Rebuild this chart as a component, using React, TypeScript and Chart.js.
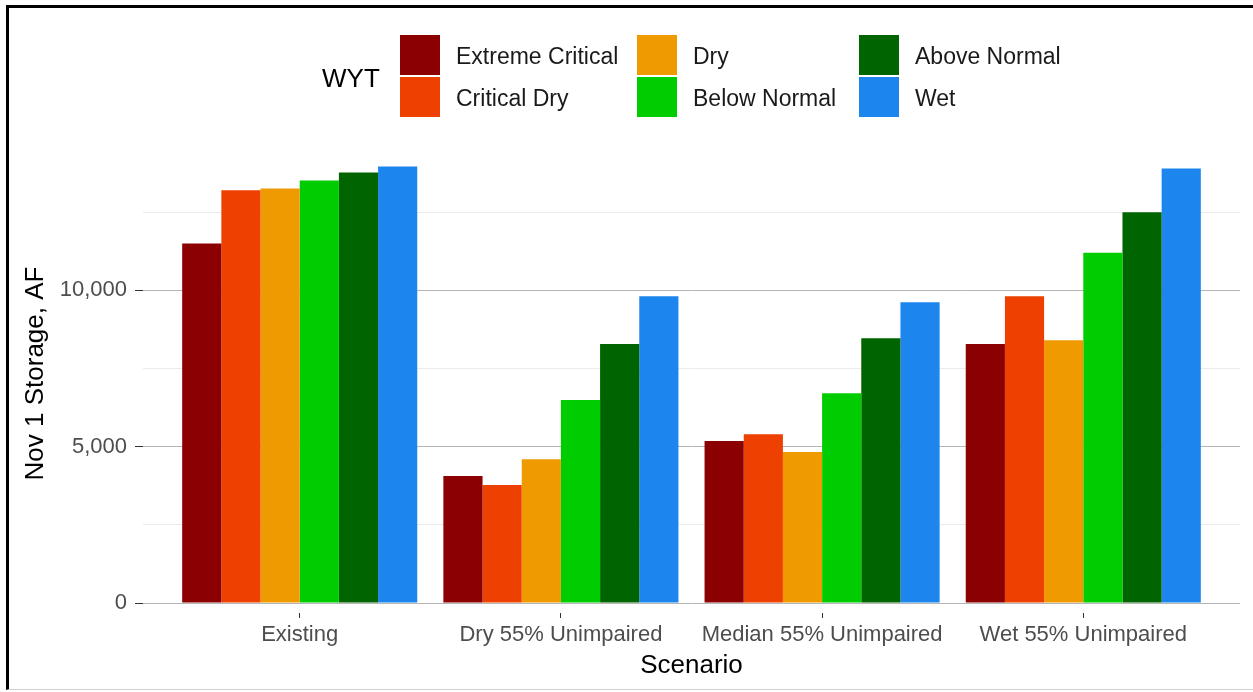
import React, { useEffect, useRef } from "react";
import { Chart, registerables } from "chart.js";

Chart.register(...registerables);

// ---- Data ----
const scenarios = ["Existing", "Dry 55% Unimpaired", "Median 55% Unimpaired", "Wet 55% Unimpaired"];
const wytNames = ["Extreme Critical", "Critical Dry", "Dry", "Below Normal", "Above Normal", "Wet"];
const wytColors = ["#8B0000", "#EE4000", "#EE9A00", "#00CD00", "#006400", "#1C86EE"];
const extremeCritical = [11500, 4060, 5180, 8280];
const criticalDry = [13200, 3770, 5400, 9810];
const dry = [13260, 4600, 4830, 8400];
const belowNormal = [13510, 6490, 6710, 11200];
const aboveNormal = [13770, 8280, 8470, 12500];
const wet = [13960, 9810, 9620, 13900];
const seriesValues = [extremeCritical, criticalDry, dry, belowNormal, aboveNormal, wet];
const yMajorTicks = [0, 5000, 10000];
const yTickStep = 2500;
const yMax = 14680;

const FONT = "'Liberation Sans', Arial, Helvetica, sans-serif";

export default function App() {
  const canvasRef = useRef<HTMLCanvasElement | null>(null);

  useEffect(() => {
    const canvas = canvasRef.current;
    if (!canvas) return;
    const chart = new Chart(canvas, {
      type: "bar",
      data: {
        datasets: wytNames.map((name, s) => ({
          label: name,
          data: scenarios.map((_, i) => ({ x: i + 1, y: seriesValues[s][i] })),
          backgroundColor: wytColors[s],
          borderWidth: 0,
          categoryPercentage: 0.9,
          barPercentage: 1,
        })),
      },
      options: {
        animation: false,
        responsive: false,
        devicePixelRatio: 1,
        layout: { padding: { top: 144, right: 13, bottom: 0, left: 0 } },
        plugins: {
          legend: { display: false },
          tooltip: { enabled: false },
        },
        scales: {
          x: {
            type: "linear",
            min: 0.4,
            max: 4.6,
            offset: false,
            afterBuildTicks: (sc: any) => {
              sc.ticks = scenarios.map((_, i) => ({ value: i + 1 }));
            },
            afterFit: (sc: any) => {
              sc.height = 89;
            },
            ticks: {
              autoSkip: false,
              maxRotation: 0,
              minRotation: 0,
              padding: 4,
              color: "#4d4d4d",
              font: { family: FONT, size: 22 },
              callback: (v: any) => scenarios[Math.round(Number(v)) - 1] ?? "",
            },
            grid: {
              offset: false,
              drawOnChartArea: false,
              drawTicks: true,
              tickLength: 15,
              tickColor: "#333333",
              tickWidth: 1,
              tickBorderDash: [0, 10, 5, 100],
            },
            border: { display: false },
            title: {
              display: true,
              text: "Scenario",
              color: "#000000",
              font: { family: FONT, size: 26 },
              padding: { top: 0, bottom: 11 },
            },
          },
          y: {
            min: 0,
            max: yMax,
            afterBuildTicks: (sc: any) => {
              const t: any[] = [];
              for (let v = 0; v <= yMax; v += yTickStep) t.push({ value: v });
              sc.ticks = t;
            },
            afterFit: (sc: any) => {
              sc.width = 143;
            },
            ticks: {
              padding: 8,
              color: "#4d4d4d",
              font: { family: FONT, size: 22 },
              callback: (v: any) =>
                yMajorTicks.includes(Number(v)) ? Number(v).toLocaleString("en-US") : "",
            },
            grid: {
              color: (ctx: any) =>
                ctx.tick && yMajorTicks.includes(ctx.tick.value) ? "#b5b5b5" : "#ebebeb",
              lineWidth: 1,
              drawTicks: true,
              tickLength: 8,
              tickColor: (ctx: any) =>
                ctx.tick && yMajorTicks.includes(ctx.tick.value) ? "#333333" : "rgba(0,0,0,0)",
            },
            border: { display: false },
            title: {
              display: true,
              text: "Nov 1 Storage, AF",
              color: "#000000",
              font: { family: FONT, size: 26 },
              padding: { top: 20, bottom: 0 },
            },
          },
        },
      },
    } as any);
    return () => chart.destroy();
  }, []);

  // legend ordering: filled column by column, 2 rows
  const legendCols = [0, 1, 2].map((c) => [c * 2, c * 2 + 1]);
  const colWidths = [237, 222, 220];

  return (
    <div
      style={{
        position: "fixed",
        left: 0,
        top: 0,
        width: 1253,
        height: 692,
        background: "#ffffff",
        overflow: "hidden",
        fontFamily: FONT,
      }}
    >
      <canvas
        ref={canvasRef}
        width={1253}
        height={692}
        style={{ position: "absolute", left: 0, top: 0, width: 1253, height: 692 }}
      />
      {/* Legend */}
      <div
        style={{
          position: "absolute",
          left: 322,
          top: 35,
          height: 82,
          display: "flex",
          alignItems: "center",
        }}
      >
        <div style={{ width: 78, fontSize: 26, color: "#000", paddingTop: 4 }}>WYT</div>
        {legendCols.map((col, ci) => (
          <div key={ci} style={{ width: colWidths[ci], display: "flex", flexDirection: "column" }}>
            {col.map((idx, ri) => (
              <div
                key={idx}
                style={{
                  display: "flex",
                  alignItems: "center",
                  height: 40,
                  marginTop: ri === 0 ? 0 : 2,
                }}
              >
                <div style={{ width: 40, height: 40, background: wytColors[idx] }} />
                <div
                  style={{
                    marginLeft: 16,
                    fontSize: 23,
                    color: "#1a1a1a",
                    whiteSpace: "nowrap",
                    paddingTop: 3,
                  }}
                >
                  {wytNames[idx]}
                </div>
              </div>
            ))}
          </div>
        ))}
      </div>
      {/* Outer frame */}
      <div
        style={{
          position: "absolute",
          left: 6,
          top: 5,
          width: 1260,
          height: 685,
          borderLeft: "3px solid #000",
          borderTop: "3px solid #000",
          borderBottom: "1px solid #d0d0d0",
          boxSizing: "border-box",
          pointerEvents: "none",
        }}
      />
    </div>
  );
}
